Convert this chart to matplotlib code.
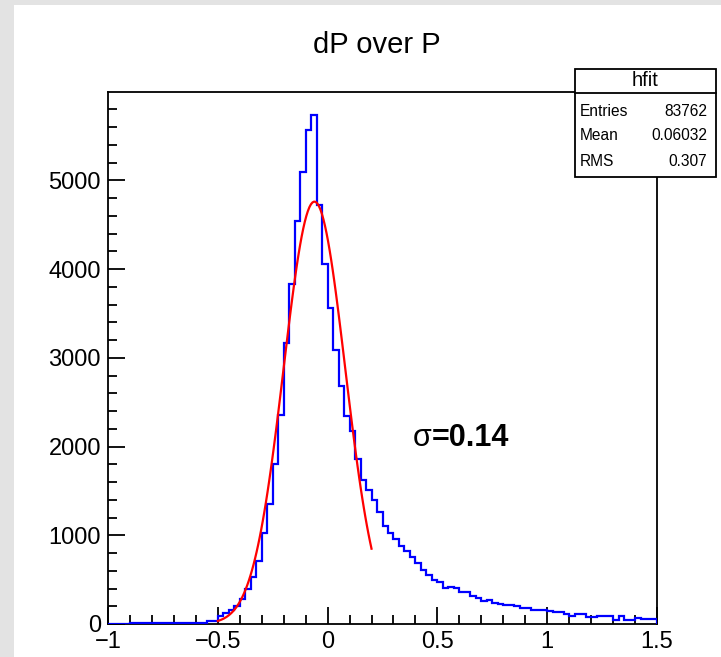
import numpy as np
import matplotlib
matplotlib.use("Agg")
import matplotlib.pyplot as plt
from matplotlib.patches import Rectangle
from matplotlib.ticker import MultipleLocator, FuncFormatter

plt.rcParams['font.family'] = ['Liberation Sans', 'DejaVu Sans']

# ---------------- data ----------------
bin_lo, bin_hi, n_bins = -1.0, 1.5, 100
counts_left_tail = [0, 0, 0, 0,
                    10, 10, 10, 10, 10, 10, 10, 10, 10, 10, 10, 10, 10, 10,
                    36, 38]
counts_rise = [95, 125, 155, 205, 285, 390, 530, 710, 1030, 1350, 1800, 2360]
counts_core = [3170, 3827, 4542, 5088, 5566, 5735, 4719, 4053,
               3564, 3093, 2679, 2340, 2171, 1859, 1626, 1513]
counts_right_tail = [1400, 1257, 1099, 1024, 956, 884, 824, 760, 692, 610,
                     553, 497, 478, 403, 421, 403, 365, 365, 316, 290,
                     263, 271, 233, 226, 214, 210, 200, 177, 177, 158,
                     158, 155, 150, 140, 138, 115, 90, 113, 113, 75,
                     80, 90, 90, 90, 48, 90, 48, 48, 70, 52,
                     52, 52]
counts = np.array(counts_left_tail + counts_rise + counts_core + counts_right_tail, float)

fit_amp, fit_mean, fit_sigma = 4760.0, -0.06, 0.14
fit_range = (-0.5, 0.2)

title = "dP over P"
stats_name = "hfit"
stats_labels = ["Entries", "Mean", "RMS"]
stats_values = ["83762", "0.06032", "0.307"]
annotation = "=0.14"

# ---------------- figure ----------------
W, H = 721, 657
fig = plt.figure(figsize=(W / 100, H / 100), dpi=100, facecolor='#e3e3e3')
fig.add_artist(Rectangle((14 / W, 0), 1 - 14 / W, 1 - 5 / H, transform=fig.transFigure,
                         facecolor='white', edgecolor='none', zorder=-10))

ax = fig.add_axes([108 / W, 1 - 624 / H, (657 - 108) / W, (624 - 92) / H])
ax.set_facecolor('white')

edges = np.linspace(bin_lo, bin_hi, n_bins + 1)
ax.stairs(counts, edges, color='#0000ff', linewidth=1.6, zorder=3)

xf = np.linspace(fit_range[0], fit_range[1], 100)
yf = fit_amp * np.exp(-0.5 * ((xf - fit_mean) / fit_sigma) ** 2)
ax.plot(xf, yf, color='#ff0000', linewidth=1.6, zorder=4)

ax.set_xlim(bin_lo, bin_hi)
ax.set_ylim(0, 5995)

ax.xaxis.set_major_locator(MultipleLocator(0.5))
ax.xaxis.set_minor_locator(MultipleLocator(0.1))
ax.yaxis.set_major_locator(MultipleLocator(1000))
ax.yaxis.set_minor_locator(MultipleLocator(200))

ax.xaxis.set_major_formatter(FuncFormatter(lambda v, p: ('%g' % v).replace('-', '\u2212')))
ax.yaxis.set_major_formatter(FuncFormatter(lambda v, p: '%d' % v))

ax.tick_params(axis='both', which='both', direction='in', top=False, right=False,
               width=1.3, color='black', labelsize=17)
ax.tick_params(axis='x', which='major', length=12.5, pad=5)
ax.tick_params(axis='x', which='minor', length=6.5)
ax.tick_params(axis='y', which='major', length=12.5, pad=5)
ax.tick_params(axis='y', which='minor', length=6.5)
for sp in ax.spines.values():
    sp.set_linewidth(1.3)
    sp.set_color('black')

# sigma annotation
ax.text(0.475, 2010, '\u03c3', fontsize=22, ha='right', va='baseline')
ax.text(0.475, 2010, annotation, fontsize=22, fontweight='bold', ha='left', va='baseline')

# title
fig.text(377 / W, 1 - 45 / H, title, fontsize=21, ha='center', va='center')

# stats box
bx0, bx1, by0, by1, bhdr = 575, 716, 69, 177, 93
fig.add_artist(Rectangle((bx0 / W, 1 - by1 / H), (bx1 - bx0) / W, (by1 - by0) / H,
                         transform=fig.transFigure, facecolor='white', edgecolor='black',
                         linewidth=1.3, zorder=20))
fig.add_artist(plt.Line2D([bx0 / W, bx1 / W], [1 - bhdr / H, 1 - bhdr / H],
                          transform=fig.transFigure, color='black', linewidth=1.3, zorder=21))
fig.text((bx0 + bx1) / 2 / W, 1 - 81 / H, stats_name, fontsize=14.5, ha='center', va='center', zorder=22)
row_y = [111, 136, 161]
for lab, val, yy in zip(stats_labels, stats_values, row_y):
    fig.text(580 / W, 1 - yy / H, lab, fontsize=11.2, ha='left', va='center', zorder=22)
    fig.text(707 / W, 1 - yy / H, val, fontsize=11.2, ha='right', va='center', zorder=22)

fig.savefig('out.png', dpi=100, facecolor=fig.get_facecolor())
